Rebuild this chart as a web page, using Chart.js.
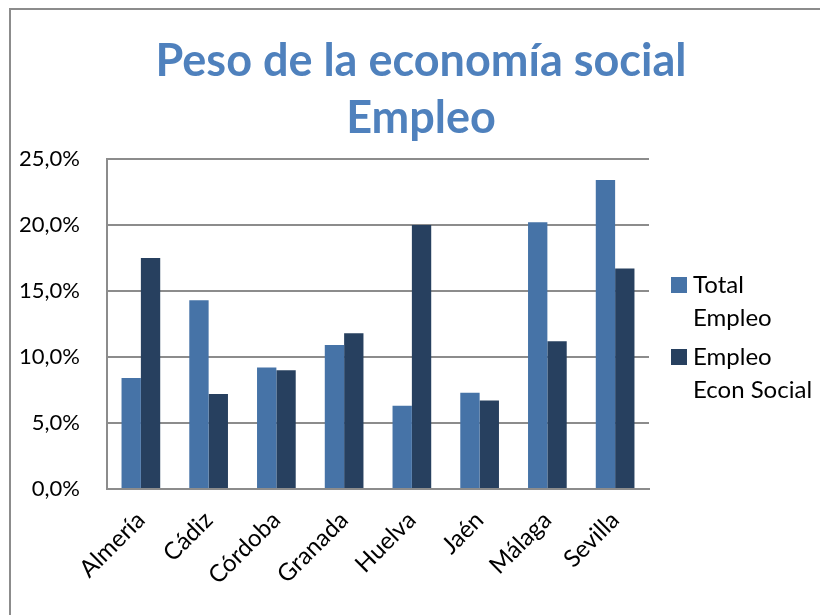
<!DOCTYPE html>
<html lang="es">
<head>
<meta charset="utf-8">
<title>Peso de la economía social - Empleo</title>
<script src="https://cdn.jsdelivr.net/npm/chart.js@4"></script>
<style>
  html, body { margin: 0; padding: 0; background: #fff; overflow: hidden; }
  #moldura {
    position: absolute; left: 9px; top: 8px;
    width: 900px; height: 700px;
    border: 2px solid #8c8c8c; box-sizing: border-box;
  }
  #grafico { position: absolute; left: 0; top: 0; }
</style>
</head>
<body>
<div id="moldura"></div>
<canvas id="grafico" width="820" height="615"></canvas>
<script>
// provincias
const provincias = ['Almería', 'Cádiz', 'Córdoba', 'Granada', 'Huelva', 'Jaén', 'Málaga', 'Sevilla'];

// % sobre el total de Andalucía
const totalEmpleo = [8.4, 14.3, 9.2, 10.9, 6.3, 7.3, 20.2, 23.4];
const empleoEconSocial = [17.5, 7.2, 9.0, 11.8, 20.0, 6.7, 11.2, 16.7];

// eje Y
const valoresY = [0, 5, 10, 15, 20, 25];
const rotulosY = ['0,0%', '5,0%', '10,0%', '15,0%', '20,0%', '25,0%'];

const tituloLinhas = ['Peso de la economía social', 'Empleo'];
const legendaSerie1 = ['Total', 'Empleo'];
const legendaSerie2 = ['Empleo', 'Econ Social'];

const fonte = 'Lato, "Open Sans", sans-serif';

// titulo y leyenda dibujados a mano (la leyenda va en dos lineas)
const tituloLegenda = {
  id: 'tituloLegenda',
  afterDraw(chart) {
    const ctx = chart.ctx;
    ctx.save();
    ctx.fillStyle = '#4f81bd';
    ctx.font = 'bold 45px ' + fonte;
    ctx.textAlign = 'center';
    ctx.textBaseline = 'alphabetic';
    ctx.fillText(tituloLinhas[0], 421, 76);
    ctx.fillText(tituloLinhas[1], 421, 133);

    ctx.textAlign = 'left';
    ctx.textBaseline = 'middle';
    ctx.font = '24px ' + fonte;
    let y = 285;
    chart.data.datasets.forEach(ds => {
      ctx.fillStyle = ds.backgroundColor;
      ctx.fillRect(671, y - 8, 16, 16);
      ctx.fillStyle = '#000';
      ds.linhasLegenda.forEach((linha, i) => {
        ctx.fillText(linha, 693, y + i * 33);
      });
      y += 72;
    });
    ctx.restore();
  }
};

const ctx = document.getElementById('grafico').getContext('2d');

const grafico = new Chart(ctx, {
  type: 'bar',
  data: {
    labels: provincias,
    datasets: [
      {
        label: legendaSerie1.join(' '),
        linhasLegenda: legendaSerie1,
        data: totalEmpleo,
        backgroundColor: '#4673a7',
        categoryPercentage: 0.571,
        barPercentage: 1
      },
      {
        label: legendaSerie2.join(' '),
        linhasLegenda: legendaSerie2,
        data: empleoEconSocial,
        backgroundColor: '#27405f',
        categoryPercentage: 0.571,
        barPercentage: 1
      }
    ]
  },
  options: {
    responsive: false,
    animation: false,
    layout: {
      padding: { left: 12, right: 171, top: 159, bottom: 0 }
    },
    plugins: {
      legend: { display: false },
      title: { display: false },
      tooltip: { enabled: false }
    },
    scales: {
      x: {
        grid: { display: false },
        border: { display: true, color: '#8c8c8c', width: 2 },
        ticks: {
          color: '#000',
          font: { family: fonte, size: 24 },
          maxRotation: 45,
          minRotation: 45,
          padding: 9
        },
        afterFit(scale) { scale.height = 126; }
      },
      y: {
        min: 0,
        max: 25,
        afterBuildTicks(scale) {
          scale.ticks = valoresY.map(v => ({ value: v }));
        },
        grid: { color: '#8c8c8c', lineWidth: 2, drawTicks: false },
        border: { display: true, color: '#8c8c8c', width: 2 },
        ticks: {
          color: '#000',
          font: { family: fonte, size: 22 },
          padding: 27,
          callback: (valor, i) => rotulosY[i]
        },
        afterFit(scale) { scale.width = 95; }
      }
    }
  },
  plugins: [tituloLegenda]
});
</script>
</body>
</html>
